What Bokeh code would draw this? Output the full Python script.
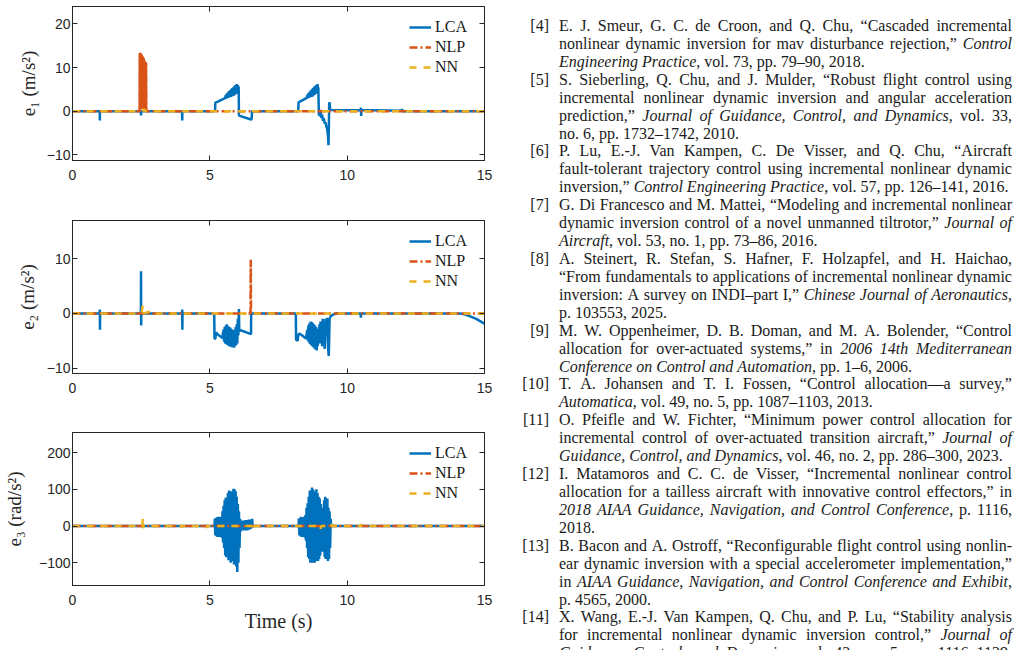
import html as _html
from bokeh.plotting import figure
from bokeh.models import LinearAxis, FixedTicker, Range1d, Div
from bokeh.layouts import row, column
from bokeh.embed import file_html
from bokeh.resources import INLINE

BLUE = "#0072BD"
ORANGE = "#D95319"
YELLOW = "#EDB120"
INK = "#262626"

x_ticks = [0, 5, 10, 15]
x_labels = ["0", "5", "10", "15"]
series_names = ["LCA", "NLP", "NN"]

# ---------------- e1 (m/s^2) ----------------
e1_yticks = [-10, 0, 10, 20]
e1_lca = [(0, 0), (0.99, 0), (0.995, -2.1), (1.0, 0), (2.49, 0), (2.495, -1.0), (2.5, 0),
          (3.99, 0), (3.995, -2.1), (4.0, 0), (5.19, 0), (5.20, 1.9), (5.25, 2.1), (5.30, 2.2),
          (5.35, 2.4), (5.40, 2.5), (5.45, 2.7), (5.50, 2.8), (5.55, 3.0), (5.58, 3.6),
          (5.60, 2.9), (5.62, 4.0), (5.64, 3.0), (5.66, 4.3), (5.68, 3.1), (5.70, 4.6),
          (5.72, 3.2), (5.74, 4.8), (5.76, 3.3), (5.78, 5.0), (5.80, 3.4), (5.82, 5.3),
          (5.84, 3.5), (5.86, 5.5), (5.88, 3.6), (5.90, 5.8), (5.92, 3.8), (5.94, 6.0),
          (5.96, 4.0), (5.98, 6.2), (6.00, 4.3), (6.02, 6.0), (6.04, 4.8), (6.05, 5.6),
          (6.06, -1.0), (6.50, -1.9), (6.52, -1.8), (6.54, 0),
          (8.22, 0), (8.23, 2.0), (8.28, 2.2), (8.33, 2.4), (8.38, 2.5), (8.43, 2.7), (8.48, 2.9),
          (8.53, 3.0), (8.56, 3.8), (8.58, 3.0), (8.60, 4.2), (8.62, 3.1), (8.64, 4.5),
          (8.66, 3.2), (8.68, 4.8), (8.70, 3.3), (8.72, 5.0), (8.74, 3.4), (8.76, 5.3),
          (8.78, 3.6), (8.80, 5.6), (8.82, 3.8), (8.84, 5.8), (8.86, 4.0), (8.88, 6.0),
          (8.90, 4.2), (8.92, 6.2), (8.94, 4.8), (8.95, 5.5),
          (8.97, -0.8), (9.0, -1.0), (9.03, 0.3), (9.06, -1.5), (9.09, -0.8), (9.12, -2.2),
          (9.15, -1.6), (9.18, -2.8), (9.21, -2.5), (9.24, -3.5), (9.27, -4.0), (9.30, -5.5),
          (9.32, -7.8), (9.335, -3.0), (9.345, 1.8), (9.36, 2.0), (9.38, 0.5), (9.42, 0.3),
          (10.49, 0.2), (10.50, 0.8), (10.51, -1.1), (10.52, 0.3), (11.99, 0.1), (12.0, 0.5),
          (12.01, 0), (15, 0)]
e1_nlp = [(0, 0), (2.45, 0), (2.455, 13.3), (2.46, 0.5), (2.465, 13.4), (2.47, 0.5), (2.475, 13.3),
          (2.48, 0.5), (2.485, 13.2), (2.49, 0.5), (2.495, 13.0), (2.5, 0.5), (2.505, 12.9),
          (2.51, 0.5), (2.515, 12.8), (2.52, 0.5), (2.525, 12.7), (2.53, 0.5), (2.535, 12.6),
          (2.54, 0.5), (2.545, 12.5), (2.55, 0.5), (2.555, 12.4), (2.56, 0.5), (2.565, 12.3),
          (2.57, 0.5), (2.575, 12.2), (2.58, 0.5), (2.585, 12.0), (2.59, 0.5), (2.595, 11.8),
          (2.60, 0.5), (2.605, 11.6), (2.61, 0.5), (2.615, 11.5), (2.62, 0.5), (2.625, 11.4),
          (2.63, 0.5), (2.635, 11.3), (2.64, 0.5), (2.645, 11.2), (2.65, 0.5), (2.655, 11.2),
          (2.66, 0.5), (2.665, 11.1), (2.67, 0.5), (2.675, 11.0), (2.68, 0), (15, 0)]
e1_nlp_burst = e1_nlp[1:-1]   # the dense burst region, where the dashes overlap into a solid fill
e1_nn = [(0, 0), (2.55, 0), (2.6, 0.5), (2.65, 0), (15, 0)]

# ---------------- e2 (m/s^2) ----------------
e2_yticks = [-10, 0, 10]
e2_lca = [(0, 0), (0.99, 0), (0.995, 0.7), (1.0, -3.0), (1.005, 0), (2.49, 0), (2.495, 7.7),
          (2.50, -2.2), (2.505, 0), (3.99, 0), (3.995, 0.7), (4.0, -3.0), (4.005, 0),
          (5.16, 0), (5.17, -4.7), (5.20, -4.6), (5.23, -3.5), (5.25, -3.6), (5.30, -3.9),
          (5.35, -4.1), (5.40, -4.3), (5.45, -4.5), (5.50, -3.0), (5.52, -5.2), (5.54, -2.5),
          (5.56, -5.5), (5.58, -2.2), (5.60, -5.6), (5.62, -2.0), (5.64, -5.8), (5.66, -2.3),
          (5.68, -5.9), (5.70, -2.5), (5.72, -6.0), (5.74, -2.6), (5.76, -6.1), (5.78, -2.8),
          (5.80, -6.2), (5.82, -3.0), (5.84, -6.2), (5.86, -3.2), (5.88, -6.3), (5.90, -3.0),
          (5.92, -6.0), (5.94, -2.5), (5.96, -5.8), (5.98, -2.0), (6.00, -5.5), (6.02, -1.0),
          (6.04, -4.0), (6.06, 0.8), (6.07, -3.0), (6.50, -3.8), (6.505, 0),
          (8.13, 0), (8.14, -4.8), (8.20, -5.0), (8.22, -4.0), (8.25, -3.7), (8.30, -3.8),
          (8.35, -4.0), (8.40, -4.2), (8.45, -4.4), (8.50, -4.6), (8.55, -3.0), (8.57, -5.0),
          (8.59, -2.2), (8.61, -5.3), (8.63, -1.8), (8.65, -5.6), (8.67, -1.5), (8.69, -5.8),
          (8.71, -1.6), (8.73, -6.0), (8.75, -1.8), (8.77, -6.2), (8.79, -2.0), (8.81, -6.4),
          (8.83, -2.2), (8.85, -6.6), (8.87, -2.5), (8.89, -6.8), (8.91, -2.8), (8.93, -6.0),
          (8.95, -3.0), (8.97, -5.5), (8.99, -2.0), (9.01, -5.0), (9.03, -1.5), (9.05, -5.5),
          (9.07, -2.0), (9.09, -6.0), (9.11, -1.0), (9.13, -5.0), (9.15, -2.5), (9.18, -6.5),
          (9.21, -1.0), (9.24, -4.0), (9.27, -0.8), (9.30, -6.0), (9.33, -7.8), (9.36, -1.0),
          (9.40, -0.5), (9.50, -0.2), (9.60, 0), (10.49, 0), (10.50, -0.8), (10.51, 0),
          (11.99, 0), (12.0, -0.2), (12.01, 0), (14.1, 0), (14.3, -0.2), (14.5, -0.6),
          (14.7, -1.0), (14.9, -1.6), (15, -1.9)]
e2_nlp = [(0, 0), (6.48, 0), (6.49, 9.8), (6.50, 0), (15, 0)]
e2_nn = [(0, 0), (2.52, 0), (2.55, 1.4), (2.58, 0), (2.8, 0.3), (2.85, 0), (15, 0)]

# ---------------- e3 (rad/s^2) ----------------
e3_yticks = [-100, 0, 100, 200]
e3_lca = [(0, 0), (5.17, 0), (5.18, 20), (5.20, -25), (5.22, 22), (5.24, -28), (5.26, 24),
          (5.28, -30), (5.30, 25), (5.32, -28), (5.34, 23), (5.36, -30), (5.38, 25), (5.40, -27),
          (5.42, 22), (5.44, -32), (5.46, 40), (5.48, -45), (5.50, 55), (5.52, -60), (5.54, 70),
          (5.56, -80), (5.58, 78), (5.60, -85), (5.62, 60), (5.64, -70), (5.66, 90), (5.68, -93),
          (5.70, 97), (5.72, -90), (5.74, 85), (5.76, -100), (5.78, 95), (5.80, -95), (5.82, 70),
          (5.84, -80), (5.86, 102), (5.88, -105), (5.90, 100), (5.92, -90), (5.94, 95),
          (5.96, -110), (5.98, 80), (6.00, -125), (6.02, 60), (6.04, -100), (6.06, 40),
          (6.08, -60), (6.10, 20), (6.12, -15), (6.14, 14), (6.16, -10), (6.18, 15), (6.20, -12),
          (6.22, 14), (6.24, -10), (6.26, 15), (6.28, -12), (6.30, 16), (6.32, -10), (6.34, 15),
          (6.36, -12), (6.38, 16), (6.40, -10), (6.42, 18), (6.44, -10), (6.46, 16), (6.48, -8),
          (6.50, 18), (6.52, -6), (6.54, 20), (6.56, 0),
          (8.23, 0), (8.24, 20), (8.26, -25), (8.28, 22), (8.30, -28), (8.32, 25), (8.34, -30),
          (8.36, 24), (8.38, -28), (8.40, 22), (8.42, -30), (8.44, 25), (8.46, -32), (8.48, 30),
          (8.50, -40), (8.52, 50), (8.54, -60), (8.56, 62), (8.58, -85), (8.60, 80), (8.62, -90),
          (8.64, 97), (8.66, -100), (8.68, 90), (8.70, -95), (8.72, 105), (8.74, -100),
          (8.76, 100), (8.78, -90), (8.80, 95), (8.82, -100), (8.84, 85), (8.86, -95),
          (8.88, 100), (8.90, -85), (8.92, 90), (8.94, -95), (8.96, 80), (8.98, -90), (9.00, 75),
          (9.02, -80), (9.04, 60), (9.06, -70), (9.08, 50), (9.10, -60), (9.12, 45), (9.14, -70),
          (9.16, 70), (9.18, -85), (9.20, 80), (9.22, -90), (9.24, 60), (9.26, -75), (9.28, 75),
          (9.30, -95), (9.32, 50), (9.34, -90), (9.36, 40), (9.38, -60), (9.40, 20), (9.42, 0),
          (10.48, 0), (10.5, 3), (10.55, 0), (15, 0)]
e3_nlp = [(0, 0), (15, 0)]
e3_nn = [(0, 0), (2.54, 0), (2.56, 22), (2.58, -6), (2.6, 0), (3.98, 0), (4.0, -3), (4.02, 0),
         (4.88, 0), (4.9, -5), (4.92, 0), (6.55, 0), (6.58, 6), (6.6, -5), (6.62, 0),
         (9.01, 0), (9.03, -8), (9.05, 0), (9.38, 0), (9.4, 5), (9.45, 0), (10.48, 0),
         (10.5, 5), (10.53, 0), (15, 0)]

# ---------------- reference list text ----------------
references = [
    ("[4]", ["E. J. Smeur, G. C. de Croon, and Q. Chu, \u201cCascaded incremental",
             "nonlinear dynamic inversion for mav disturbance rejection,\u201d *Control*",
             "*Engineering Practice*, vol. 73, pp. 79\u201390, 2018."], False),
    ("[5]", ["S. Sieberling, Q. Chu, and J. Mulder, \u201cRobust flight control using",
             "incremental nonlinear dynamic inversion and angular acceleration",
             "prediction,\u201d *Journal of Guidance, Control, and Dynamics*, vol. 33,",
             "no. 6, pp. 1732\u20131742, 2010."], False),
    ("[6]", ["P. Lu, E.-J. Van Kampen, C. De Visser, and Q. Chu, \u201cAircraft",
             "fault-tolerant trajectory control using incremental nonlinear dynamic",
             "inversion,\u201d *Control Engineering Practice*, vol. 57, pp. 126\u2013141, 2016."], False),
    ("[7]", ["G. Di Francesco and M. Mattei, \u201cModeling and incremental nonlinear",
             "dynamic inversion control of a novel unmanned tiltrotor,\u201d *Journal of*",
             "*Aircraft*, vol. 53, no. 1, pp. 73\u201386, 2016."], False),
    ("[8]", ["A. Steinert, R. Stefan, S. Hafner, F. Holzapfel, and H. Haichao,",
             "\u201cFrom fundamentals to applications of incremental nonlinear dynamic",
             "inversion: A survey on INDI\u2013part I,\u201d *Chinese Journal of Aeronautics*,",
             "p. 103553, 2025."], False),
    ("[9]", ["M. W. Oppenheimer, D. B. Doman, and M. A. Bolender, \u201cControl",
             "allocation for over-actuated systems,\u201d in *2006 14th Mediterranean*",
             "*Conference on Control and Automation*, pp. 1\u20136, 2006."], False),
    ("[10]", ["T. A. Johansen and T. I. Fossen, \u201cControl allocation\u2014a survey,\u201d",
              "*Automatica*, vol. 49, no. 5, pp. 1087\u20131103, 2013."], False),
    ("[11]", ["O. Pfeifle and W. Fichter, \u201cMinimum power control allocation for",
              "incremental control of over-actuated transition aircraft,\u201d *Journal of*",
              "*Guidance, Control, and Dynamics*, vol. 46, no. 2, pp. 286\u2013300, 2023."], False),
    ("[12]", ["I. Matamoros and C. C. de Visser, \u201cIncremental nonlinear control",
              "allocation for a tailless aircraft with innovative control effectors,\u201d in",
              "*2018 AIAA Guidance, Navigation, and Control Conference*, p. 1116,",
              "2018."], False),
    ("[13]", ["B. Bacon and A. Ostroff, \u201cReconfigurable flight control using nonlin-",
              "ear dynamic inversion with a special accelerometer implementation,\u201d",
              "in *AIAA Guidance, Navigation, and Control Conference and Exhibit*,",
              "p. 4565, 2000."], False),
    ("[14]", ["X. Wang, E.-J. Van Kampen, Q. Chu, and P. Lu, \u201cStability analysis",
              "for incremental nonlinear dynamic inversion control,\u201d *Journal of*",
              "*Guidance, Control, and Dynamics*, vol. 42, no. 5, pp. 1116\u20131129,"], True),
]


def unzip(pairs):
    return [a for a, _ in pairs], [b for _, b in pairs]


def style_axis(ax, labels=True):
    ax.axis_line_color = INK
    ax.major_tick_line_color = INK
    ax.major_tick_in = 5
    ax.major_tick_out = 0
    ax.minor_tick_line_color = None
    ax.major_label_text_font = "Liberation Sans"
    if labels:
        ax.major_label_text_color = INK
        ax.major_label_text_font_size = "14px"
    else:
        ax.major_label_text_color = None
        ax.major_label_text_font_size = "1px"
        ax.major_label_standoff = 0


def make_fig(h, top, bottom, yr, yticks, ylabel, data, frame_h, ystand, xlabel=None, burst=None):
    p = figure(width=510, height=h, x_range=Range1d(0, 15), y_range=Range1d(*yr),
               min_border_left=72, min_border_right=26, min_border_top=top,
               min_border_bottom=bottom, output_backend="svg", toolbar_location=None, tools="")
    p.xgrid.visible = False
    p.ygrid.visible = False
    p.outline_line_color = INK
    p.background_fill_color = "white"
    p.border_fill_color = "white"

    p.xaxis.ticker = FixedTicker(ticks=x_ticks)
    p.xaxis.major_label_overrides = {t: s for t, s in zip(x_ticks, x_labels)}
    p.yaxis.ticker = FixedTicker(ticks=yticks)
    for ax in p.xaxis + p.yaxis:
        style_axis(ax)
    p.xaxis.major_label_standoff = 9
    p.yaxis.major_label_standoff = 2
    p.yaxis.axis_label = ylabel
    p.yaxis.axis_label_standoff = ystand
    for ax in p.xaxis + p.yaxis:
        ax.axis_label_text_font = "Liberation Serif"
        ax.axis_label_text_font_size = "19px"
        ax.axis_label_text_font_style = "normal"
        ax.axis_label_text_color = INK
        ax.axis_label_text_line_height = 1.0
    if xlabel:
        p.xaxis.axis_label = xlabel
        p.xaxis.axis_label_standoff = 2
        p.xaxis.axis_label_text_font_size = "20px"

    top_ax = LinearAxis(ticker=FixedTicker(ticks=x_ticks))
    right_ax = LinearAxis(ticker=FixedTicker(ticks=yticks))
    style_axis(top_ax, labels=False)
    style_axis(right_ax, labels=False)
    p.add_layout(top_ax, "above")
    p.add_layout(right_ax, "right")

    lca, nlp, nn = data
    x, y = unzip(lca)
    p.line(x, y, line_color=BLUE, line_width=2.5, legend_label=series_names[0])
    x, y = unzip(nlp)
    p.line(x, y, line_color=ORANGE, line_width=2.5, line_dash="8 3 2 3",
           legend_label=series_names[1])
    if burst is not None:
        x, y = unzip(burst)
        p.line(x, y, line_color=ORANGE, line_width=2.5)
    x, y = unzip(nn)
    p.line(x, y, line_color=YELLOW, line_width=2.5, line_dash="7 7",
           legend_label=series_names[2])

    lg = p.legend[0]
    lg.location = (337, frame_h - 11 - 60)
    lg.margin = 0
    lg.padding = 0
    lg.spacing = 0
    lg.border_line_color = None
    lg.background_fill_alpha = 0
    lg.glyph_width = 22
    lg.glyph_height = 20
    lg.label_height = 20
    lg.label_standoff = 4
    lg.label_text_font = "Liberation Serif"
    lg.label_text_font_size = "16px"
    lg.label_text_color = "#1a1a1a"
    return p


p1 = make_fig(212, 6, 52, (-11.3, 24), e1_yticks, "e\u2081 (m/s\u00b2)",
              (e1_lca, e1_nlp, e1_nn), 154, 5, burst=e1_nlp_burst)
p2 = make_fig(212, 8, 51, (-11, 17), e2_yticks, "e\u2082 (m/s\u00b2)",
              (e2_lca, e2_nlp, e2_nn), 153, 6)
p3 = make_fig(226, 8, 65, (-162, 255), e3_yticks, "e\u2083 (rad/s\u00b2)",
              (e3_lca, e3_nlp, e3_nn), 153, 11, xlabel="Time (s)")


def line_html(line, state, justify):
    spans = []
    for w in line.split(" "):
        s = "<i>" if state else ""
        for ch in w:
            if ch == "*":
                state = not state
                s += "<i>" if state else "</i>"
            else:
                s += _html.escape(ch)
        if state:
            s += "</i>"
        spans.append("<span>" + s + "</span>")
    if justify:
        body = ('<div style="display:flex;justify-content:space-between;white-space:nowrap;'
                'height:17.93px">' + "".join(spans) + "</div>")
    else:
        body = ('<div style="white-space:nowrap;height:17.93px">' + " ".join(spans) + "</div>")
    return body, state


parts = []
for label, lines, cut in references:
    inner = []
    state = False
    for i, ln in enumerate(lines):
        just = (i < len(lines) - 1) or cut
        b, state = line_html(ln, state, just)
        inner.append(b)
    parts.append('<div style="position:relative">'
                 '<span style="position:absolute;left:0;top:0;width:39px;text-align:right">'
                 + label + '</span><div style="margin-left:49px;width:453px">'
                 + "".join(inner) + "</div></div>")

page_text = ('<div style="position:relative;width:512px;height:650px;overflow:hidden;'
             'padding-top:17px;box-sizing:border-box;font-family:\'Liberation Serif\';'
             'font-size:16px;line-height:17.93px;color:#1a1a1a;background:white">'
             + "".join(parts) + "</div>")

div = Div(text=page_text, width=512, height=650, margin=(0, 0, 0, 0))

layout = row(column(p1, p2, p3), div)

with open("out.html", "w") as f:
    f.write(file_html(layout, INLINE))
